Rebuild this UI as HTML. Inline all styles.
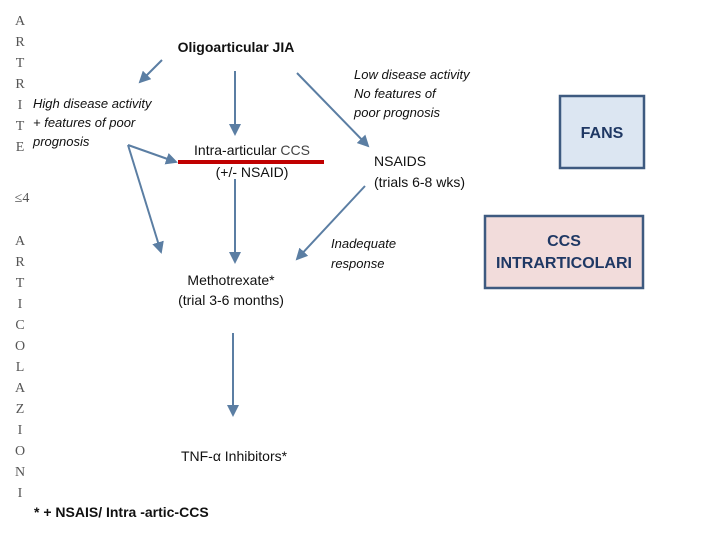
<!DOCTYPE html>
<html><head><meta charset="utf-8"><style>
body{margin:0;background:#fff}
svg{display:block}
.s{font-family:"Liberation Serif",serif;font-size:14px;fill:#555}
.b{font-family:"Liberation Sans",sans-serif;font-size:14px;fill:#111}
.i{font-family:"Liberation Sans",sans-serif;font-size:13px;font-style:italic;fill:#111}
.bb{font-weight:bold}
</style></head><body>
<svg width="720" height="540" xmlns="http://www.w3.org/2000/svg">
<defs><marker id="a" markerWidth="6" markerHeight="6" refX="5" refY="3" orient="auto"><path d="M0,0 L6,3 L0,6 z" fill="#5b7ea3"/></marker></defs>
<g class="s" text-anchor="middle">
<text x="20" y="25">A</text><text x="20" y="46">R</text><text x="20" y="67">T</text><text x="20" y="88">R</text><text x="20" y="109">I</text><text x="20" y="130">T</text><text x="20" y="151">E</text>
<text x="22" y="202">≤4</text>
<text x="20" y="245">A</text><text x="20" y="266">R</text><text x="20" y="287">T</text><text x="20" y="308">I</text><text x="20" y="329">C</text><text x="20" y="350">O</text><text x="20" y="371">L</text><text x="20" y="392">A</text><text x="20" y="413">Z</text><text x="20" y="434">I</text><text x="20" y="455">O</text><text x="20" y="476">N</text><text x="20" y="497">I</text>
</g>
<g stroke="#5b7ea3" stroke-width="2" fill="none" marker-end="url(#a)">
<line x1="162" y1="60" x2="140" y2="82"/>
<line x1="235" y1="71" x2="235" y2="134"/>
<line x1="297" y1="73" x2="368" y2="146"/>
<line x1="128" y1="145" x2="176" y2="162"/>
<line x1="128" y1="145" x2="161" y2="252"/>
<line x1="235" y1="179" x2="235" y2="262"/>
<line x1="365" y1="186" x2="297" y2="259"/>
<line x1="233" y1="333" x2="233" y2="415"/>
</g>
<line x1="178" y1="162" x2="324" y2="162" stroke="#c00000" stroke-width="4"/>
<text class="b bb" x="236" y="52" text-anchor="middle">Oligoarticular JIA</text>
<text class="i" x="33" y="108">High disease activity</text>
<text class="i" x="33" y="127">+ features of poor</text>
<text class="i" x="33" y="146">prognosis</text>
<text class="b" x="252" y="155" text-anchor="middle">Intra-articular <tspan fill="#444">CCS</tspan></text>
<text class="b" x="252" y="177" text-anchor="middle">(+/- NSAID)</text>
<text class="i" x="354" y="79">Low disease activity</text>
<text class="i" x="354" y="98">No features of</text>
<text class="i" x="354" y="117">poor prognosis</text>
<text class="b" x="374" y="166">NSAIDS</text>
<text class="b" x="374" y="187">(trials 6-8 wks)</text>
<text class="i" x="331" y="248">Inadequate</text>
<text class="i" x="331" y="268">response</text>
<text class="b" x="231" y="285" text-anchor="middle">Methotrexate*</text>
<text class="b" x="231" y="305" text-anchor="middle">(trial 3-6 months)</text>
<text class="b" x="234" y="461" text-anchor="middle">TNF-α Inhibitors*</text>
<text class="b bb" x="34" y="517">* + NSAIS/ Intra -artic-CCS</text>
<rect x="560" y="96" width="84" height="72" fill="#dce6f2" stroke="#3e5a80" stroke-width="2.5"/>
<text class="b bb" x="602" y="138" text-anchor="middle" style="font-size:16px;fill:#1f3864">FANS</text>
<rect x="485" y="216" width="158" height="72" fill="#f2dcdb" stroke="#3e5a80" stroke-width="2.5"/>
<text class="b bb" x="564" y="246" text-anchor="middle" style="font-size:16px;fill:#1f3864">CCS</text>
<text class="b bb" x="564" y="268" text-anchor="middle" style="font-size:16px;fill:#1f3864">INTRARTICOLARI</text>
</svg>
</body></html>
